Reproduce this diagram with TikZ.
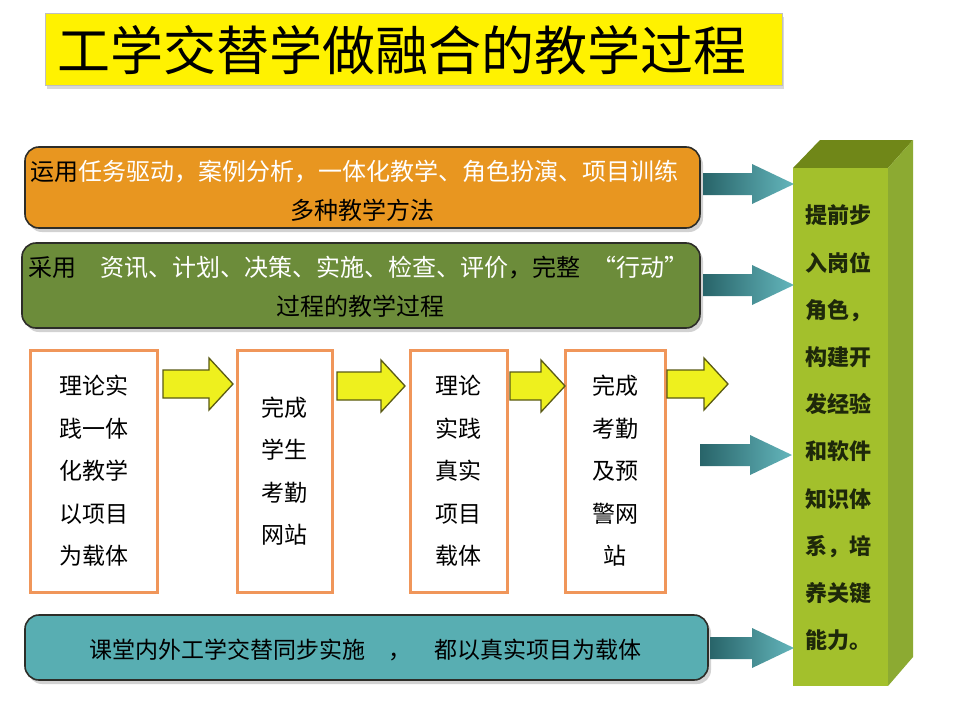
\documentclass[tikz,border=0pt]{standalone}
\usepackage{fontspec}
\setmainfont{Noto Sans CJK SC}
\usetikzlibrary{shadows}
\definecolor{orangebox}{RGB}{232,150,32}
\definecolor{greenbox}{RGB}{108,140,58}
\definecolor{tealbox}{RGB}{88,174,178}
\definecolor{rowborder}{RGB}{240,150,90}
\definecolor{yfill}{RGB}{238,240,30}
\definecolor{yedge}{RGB}{90,90,20}
\definecolor{tdark}{RGB}{40,100,105}
\definecolor{tlight}{RGB}{100,182,188}
\definecolor{colfront}{RGB}{163,192,44}
\definecolor{coltop}{RGB}{112,135,24}
\definecolor{colside}{RGB}{140,170,50}
\definecolor{coltext}{RGB}{30,40,10}
\definecolor{darkedge}{RGB}{45,45,40}
\newcommand\yarr[3]{%
  \draw[yarrow] (#1,#3-14) -- (#2-24,#3-14) -- (#2-24,#3-26) -- (#2,#3) -- (#2-24,#3+26) -- (#2-24,#3+14) -- (#1,#3+14) -- cycle;}
\newcommand\tarr[3]{%
  \path[tarrow] (#1,#3-11) -- (#2-42,#3-11) -- (#2-42,#3-20) -- (#2,#3) -- (#2-42,#3+20) -- (#2-42,#3+11) -- (#1,#3+11) -- cycle;}
\begin{document}
\begin{tikzpicture}[x=1pt,y=-1pt,
  bandbox/.style={draw=darkedge, line width=1.6pt, rounded corners=14pt,
    drop shadow={shadow xshift=3pt,shadow yshift=-4pt,opacity=.35}},
  rowbox/.style={draw=rowborder, line width=3pt, fill=white, minimum height=242pt},
  yarrow/.style={draw=yedge, line width=1.3pt, fill=yfill, line join=miter},
  tarrow/.style={left color=tdark, right color=tlight},
  bandtext/.style={font=\fontsize{24}{28}\selectfont, inner sep=0pt},
  rowtext/.style={font=\fontsize{23}{42.5}\selectfont, align=center, inner sep=0pt},
]
\useasboundingbox (0,0) rectangle (960,720);
\fill[white] (0,0) rectangle (960,720);

% title
\node[draw=gray!50, fill=yellow, minimum width=737pt, minimum height=72pt,
  drop shadow={shadow xshift=2pt,shadow yshift=-4pt,opacity=.3}] (titlebox) at (413.5,49) {};
\node[font=\fontsize{53}{60}\selectfont, anchor=west, inner sep=0pt] (title) at (57,50) {工学交替学做融合的教学过程};

% band 1
\node[bandbox, fill=orangebox, minimum width=675pt, minimum height=81pt] (b1) at (362.5,187.5) {};
\node[bandtext, anchor=west] (b1a) at (30,172) {运用\textcolor{white}{任务驱动，案例分析，一体化教学、角色扮演、项目训练}};
\node[bandtext] (b1b) at (362,210) {多种教学方法};

% band 2
\node[bandbox, fill=greenbox, minimum width=678pt, minimum height=85pt] (b2) at (361,285.5) {};
\node[bandtext, anchor=west] (b2a) at (28,268) {采用\hspace{1em}\textcolor{white}{资讯、计划、决策、实施、检查、评价}，完整\hspace{0.5em}\textcolor{white}{“行动”}};
\node[bandtext] (b2b) at (360,306) {过程的教学过程};

% row boxes
\node[rowbox, minimum width=127pt] (ra) at (93.5,471) {};
\node[rowbox, minimum width=95pt] (rb) at (284.5,471) {};
\node[rowbox, minimum width=97pt] (rc) at (458.5,471) {};
\node[rowbox, minimum width=100pt] (rd) at (615,471) {};
\node[rowtext] (ta) at (ra) {理论实\\践一体\\化教学\\以项目\\为载体};
\node[rowtext] (tb) at (rb) {完成\\学生\\考勤\\网站};
\node[rowtext] (tc) at (rc) {理论\\实践\\真实\\项目\\载体};
\node[rowtext] (td) at (rd) {完成\\考勤\\及预\\警网\\站};

% yellow arrows
\yarr{163}{233}{384}
\yarr{337}{405}{386}
\yarr{510}{565}{386}
\yarr{667}{728}{384}

% band 3
\node[bandbox, fill=tealbox, minimum width=683pt, minimum height=65pt] (b3) at (366.5,647.5) {};
\node[font=\fontsize{23}{28}\selectfont, inner sep=0pt] (b3a) at (365,650) {课堂内外工学交替同步实施\hspace{1em}，\hspace{1em}都以真实项目为载体};

% column
\fill[coltop] (793,168) -- (820,140) -- (913,140) -- (888,168) -- cycle;
\fill[colside] (888,168) -- (913,140) -- (913,657) -- (888,686) -- cycle;
\node[fill=colfront, minimum width=95pt, minimum height=518pt, inner sep=0pt] (col) at (840.5,427) {};
\node[font=\fontsize{22}{47.2}\selectfont\bfseries, text=coltext, align=left, inner sep=0pt] (coltext) at (838,428)
  {提前步\\入岗位\\角色，\\构建开\\发经验\\和软件\\知识体\\系，培\\养关键\\能力。};

% teal arrows
\tarr{703}{794}{184}
\tarr{703}{794}{285}
\tarr{700}{792}{455}
\tarr{710}{794}{648}
\end{tikzpicture}
\end{document}
